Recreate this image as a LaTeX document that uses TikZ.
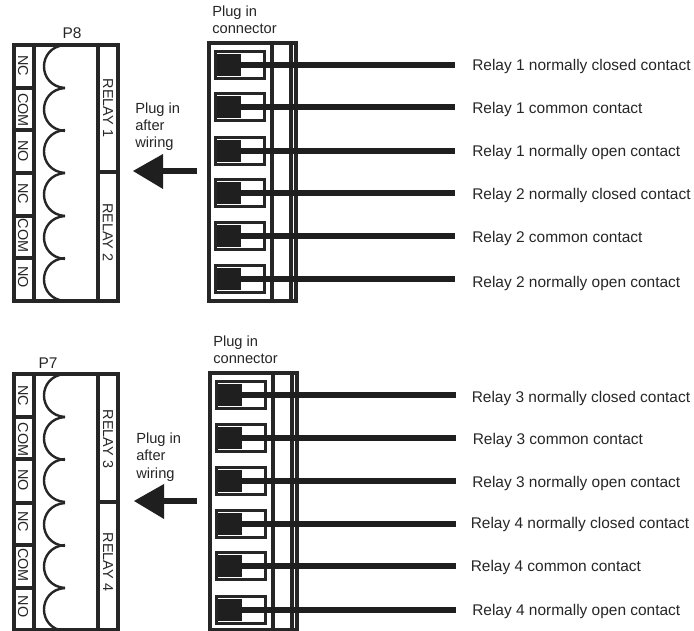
\documentclass[tikz,border=0pt]{standalone}
\usepackage{fontspec}
\setmainfont{Liberation Sans}
\tikzstyle{label} = [inner sep = 0pt, font = \fontsize{11.6}{13}\selectfont, text = black!85]
\tikzstyle{side} = [inner sep = 0pt, font = \fontsize{10.8}{12}\selectfont, text = black!85, rotate = -90]
\tikzstyle{note} = [inner sep = 0pt, align = left, anchor = north west, font = \fontsize{11}{12.8}\selectfont, text = black!85]
\tikzstyle{heavy} = [line width = 2.6pt, black!85]
\tikzstyle{scallop} = [line width = 1.8pt, black!85]
\tikzstyle{wire} = [line width = 5.2pt, black!88]
\tikzstyle{pin} = [fill = black!88, minimum width = 18pt, minimum height = 16pt, inner sep = 0pt, draw = none]
\tikzstyle{socket} = [draw = black!85, line width = 2.6pt, minimum width = 37pt, minimum height = 20pt, inner sep = 0pt]
\begin{document}
\begin{tikzpicture}[x = 0.75pt, y = -0.75pt]
      \useasboundingbox (0, 0) rectangle (694, 631);

      % Terminal block P8
      \node[label] (P8top) at (72, 33) {P8};
      \draw[heavy] (14, 45) rectangle (118, 301);
      \draw[heavy] (34, 45) -- (34, 301);
      \draw[heavy] (98, 45) -- (98, 301);
      \foreach \y in {88, 130, 173, 216, 258}
      {
        \draw[heavy] (14, \y) -- (34, \y);
      }
      \draw[heavy] (98, 172) -- (118, 172);
      \foreach \y in {45, 88, 130, 173, 216, 258}
      {
        \draw[scallop] (65, \y) .. controls (37, \y + 2) and (37, \y + 41) .. (65, \y + 43);
      }
      \node[side] (nc1) at (23, 65.5) {NC};
      \node[side] (com1) at (23, 110) {COM};
      \node[side] (no1) at (23, 151) {NO};
      \node[side] (nc2) at (23, 194) {NC};
      \node[side] (com2) at (23, 235.5) {COM};
      \node[side] (no2) at (23, 277) {NO};
      \node[side] (relay1) at (108, 108) {RELAY 1};
      \node[side] (relay2) at (108, 232.5) {RELAY 2};

      % Terminal block P7
      \node[label] (P7top) at (48, 363) {P7};
      \draw[heavy] (14, 374) rectangle (118, 630);
      \draw[heavy] (34, 374) -- (34, 630);
      \draw[heavy] (98, 374) -- (98, 630);
      \foreach \y in {417, 459, 503, 545, 588}
      {
        \draw[heavy] (14, \y) -- (34, \y);
      }
      \draw[heavy] (98, 502) -- (118, 502);
      \foreach \y in {374, 417, 459, 503, 545, 588}
      {
        \draw[scallop] (65, \y) .. controls (37, \y + 2) and (37, \y + 41) .. (65, \y + 43);
      }
      \node[side] (nc3) at (23, 395.5) {NC};
      \node[side] (com3) at (23, 439.5) {COM};
      \node[side] (no3) at (23, 480) {NO};
      \node[side] (nc4) at (23, 522) {NC};
      \node[side] (com4) at (23, 565) {COM};
      \node[side] (no4) at (23, 606.5) {NO};
      \node[side] (relay3) at (108, 439) {RELAY 3};
      \node[side] (relay4) at (108, 562) {RELAY 4};

      % Arrows
      \node[note] (plugA) at (135, 102.5) {Plug in\\after\\wiring};
      \node[note] (plugB) at (136, 433) {Plug in\\after\\wiring};
      \coordinate (tailA) at (197, 171);
      \coordinate (tailB) at (197, 501);
      \draw[wire] (tailA) -- (160, 171);
      \draw[wire] (tailB) -- (160, 501);
      \fill[black!88] (133, 171) -- (163, 154) -- (163, 189) -- cycle;
      \fill[black!88] (134, 501) -- (164, 484) -- (164, 519) -- cycle;

      % Plug in connectors
      \node[note] (connA) at (212, 6) {Plug in\\connector};
      \node[note] (connB) at (213, 336) {Plug in\\connector};
      \draw[heavy] (209, 43) rectangle (296, 301);
      \draw[heavy] (272, 43) -- (272, 301);
      \draw[heavy] (291, 43) -- (291, 301);
      \draw[heavy] (210, 373) rectangle (297, 630);
      \draw[heavy] (273, 373) -- (273, 630);
      \draw[heavy] (292, 373) -- (292, 630);

      % Sockets and wires, first connector
      \foreach \n/\y/\t/\e/\x/\b in {a/65/Relay 1 normally closed contact/455/472/70.5,
                                     b/107/Relay 1 common contact/455/472/114,
                                     c/151/Relay 1 normally open contact/455/472/157,
                                     d/193/Relay 2 normally closed contact/455/472/199.5,
                                     e/236/Relay 2 common contact/455/472/242.5,
                                     f/279/Relay 2 normally open contact/455/472/287.5}
      {
        \node[socket] (box\n) at (240, \y) {};
        \node[pin] (pin\n) at (229, \y) {};
        \node[label, anchor = base west] (txt\n) at (\x, \b) {\t};
        \coordinate (end\n) at (\e, \y);
        \draw[wire] (pin\n.center) -- (end\n);
      }
      % Sockets and wires, second connector
      \foreach \n/\y/\t/\e/\x/\b in {g/395/Relay 3 normally closed contact/456/471.5/402.5,
                                     h/438/Relay 3 common contact/456/472.5/444.5,
                                     i/481/Relay 3 normally open contact/456/472/487.5,
                                     j/524/Relay 4 normally closed contact/456/470.5/529,
                                     k/566/Relay 4 common contact/456/470.5/571.5,
                                     l/610/Relay 4 normally open contact/456/472/616}
      {
        \node[socket] (box\n) at (241, \y) {};
        \node[pin] (pin\n) at (230, \y) {};
        \node[label, anchor = base west] (txt\n) at (\x, \b) {\t};
        \coordinate (end\n) at (\e, \y);
        \draw[wire] (pin\n.center) -- (end\n);
      }
    \end{tikzpicture}
\end{document}
